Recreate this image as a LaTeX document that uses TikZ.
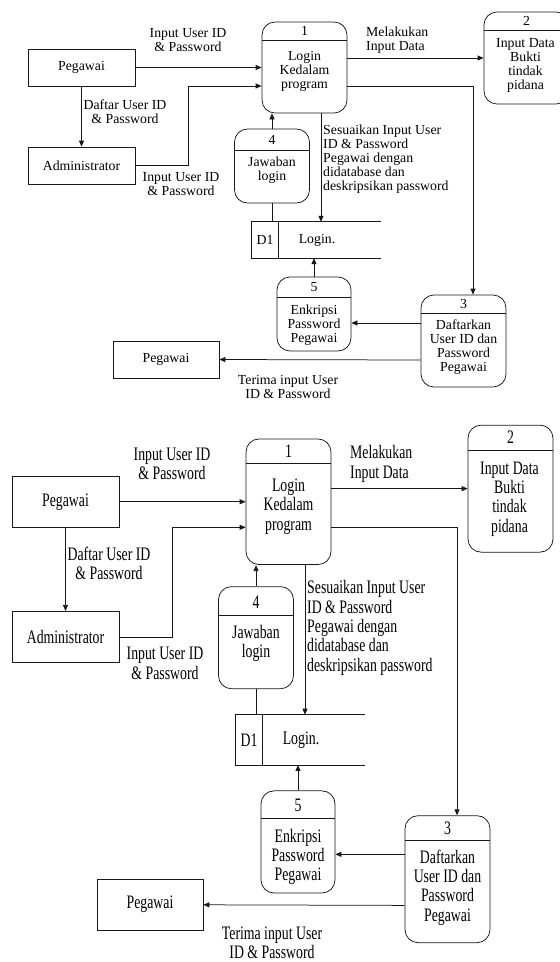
\documentclass[tikz,border=0pt]{standalone}
\usepackage{fontspec}
\setmainfont{Liberation Serif}
\usetikzlibrary{arrows.meta}

\newcommand\dfdfont{\fontsize{13.8}{14}\selectfont}

\tikzset{
  line/.style={draw=black!90, line width=0.75pt},
  flow/.style={line, -{Triangle[length=6pt,width=5pt]}},
  txt/.style={font=\dfdfont, align=center, inner sep=0pt, text=black},
  entity/.style={line, txt, rectangle, minimum width=107pt, minimum height=37pt},
  procbox/.style={line, rectangle, rounded corners=13pt, inner sep=0pt},
  storebox/.style={rectangle, inner sep=0pt, minimum width=129pt, minimum height=36pt},
}

% One copy of the level-1 data flow diagram (units: 1pt, y pointing down)
\newcommand\dfdsheet{%
  % external entities
  \node[entity] (pegA) at (81.5,67.5) {Pegawai};
  \node[entity] (admin) at (81.5,165.5) {Administrator};
  \node[entity, minimum width=106pt] (pegB) at (166,359.5) {Pegawai};
  % process 1
  \node[procbox, minimum width=85pt, minimum height=91pt] (p1) at (304.5,67.5) {};
  \draw[line] (p1.west |- 0,40) -- (p1.east |- 0,40);
  \node[txt] (p1n) at (304.5,31) {1};
  \node[txt] (p1t) at (304.5,71) {Login\\Kedalam\\program};
  % process 2
  \node[procbox, minimum width=85pt, minimum height=92pt] (p2) at (526.5,58) {};
  \draw[line] (p2.west |- 0,30) -- (p2.east |- 0,30);
  \node[txt] (p2n) at (526.5,21) {2};
  \node[txt] (p2t) at (525.5,65.5) {Input Data\\Bukti\\tindak\\pidana};
  % process 3
  \node[procbox, minimum width=85pt, minimum height=92pt] (p3) at (463.5,341) {};
  \draw[line] (p3.west |- 0,313) -- (p3.east |- 0,313);
  \node[txt] (p3n) at (463.5,304) {3};
  \node[txt] (p3t) at (463.5,347) {Daftarkan\\User ID dan\\Password\\Pegawai};
  % process 4
  \node[procbox, minimum width=75pt, minimum height=74pt] (p4) at (272,166) {};
  \draw[line] (p4.west |- 0,150) -- (p4.east |- 0,150);
  \node[txt] (p4n) at (272,140) {4};
  \node[txt] (p4t) at (272,170) {Jawaban\\login};
  % process 5
  \node[procbox, minimum width=74pt, minimum height=74pt] (p5) at (314,314) {};
  \draw[line] (p5.west |- 0,297) -- (p5.east |- 0,297);
  \node[txt] (p5n) at (314,287.5) {5};
  \node[txt] (p5t) at (314,325) {Enkripsi\\Password\\Pegawai};
  % data store D1
  \node[storebox] (d1) at (316.5,240) {};
  \draw[line] (d1.north east) -- (d1.north west) -- (d1.south west) -- (d1.south east);
  \draw[line] (278,0 |- d1.north) -- (278,0 |- d1.south);
  \node[txt] (d1id) at (265,240) {D1};
  \node[txt] (d1name) at (317,240) {Login.};
  % data flows
  \coordinate (bend) at (188,86);
  \draw[flow] (pegA.east) -- (pegA.east -| p1.west);
  \draw[flow] (pegA.south) -- (admin.north);
  \draw[flow] (admin.east) -| (bend) -- (bend -| p1.west);
  \draw[flow] (p1.east |- 0,58) -- (p2.west |- 0,58);
  \draw[flow] (p1.east |- 0,86) -| (473,0 |- p3.north);
  \draw[flow] (321,0 |- p1.south) -- (321,0 |- d1.north);
  \draw[flow] (p4.north) -- (p4.north |- p1.south);
  \draw[line] (p4.south) -- (p4.south |- d1.north);
  \draw[flow] (p5.north) -- (p5.north |- d1.south);
  \draw[flow] (p3.west |- 0,323) -- (p5.east |- 0,323);
  \draw[flow] (p3.west |- 0,360) -- (pegB.east);
  % flow labels
  \node[txt] (lab1) at (188,40) {Input User ID\\\& Password};
  \node[txt] (lab2) at (125,112) {Daftar User ID\\\& Password};
  \node[txt] (lab3) at (181,184.5) {Input User ID\\\& Password};
  \node[txt, align=left, anchor=west] (lab4) at (366,40) {Melakukan\\Input Data};
  \node[txt, align=left, anchor=west] (lab5) at (323,159)
    {Sesuaikan Input User\\ID \& Password\\Pegawai dengan\\didatabase dan\\deskripsikan password};
  \node[txt] (lab6) at (288,387) {Terima input User\\ID \& Password};
}

\begin{document}
\begin{tikzpicture}[x=1pt, y=-1pt]
  \useasboundingbox (0,0) rectangle (560,962);
  \fill[white] (0,0) rectangle (560,962);
  \clip (0,0) rectangle (560,962);
  % compact copy
  \begin{scope}[name prefix=top-]
    \dfdsheet
  \end{scope}
  % vertically stretched copy
  \begin{scope}[name prefix=big-, shift={(-16,408.6)}, yscale=1.38, transform shape]
    \dfdsheet
  \end{scope}
\end{tikzpicture}
\end{document}
